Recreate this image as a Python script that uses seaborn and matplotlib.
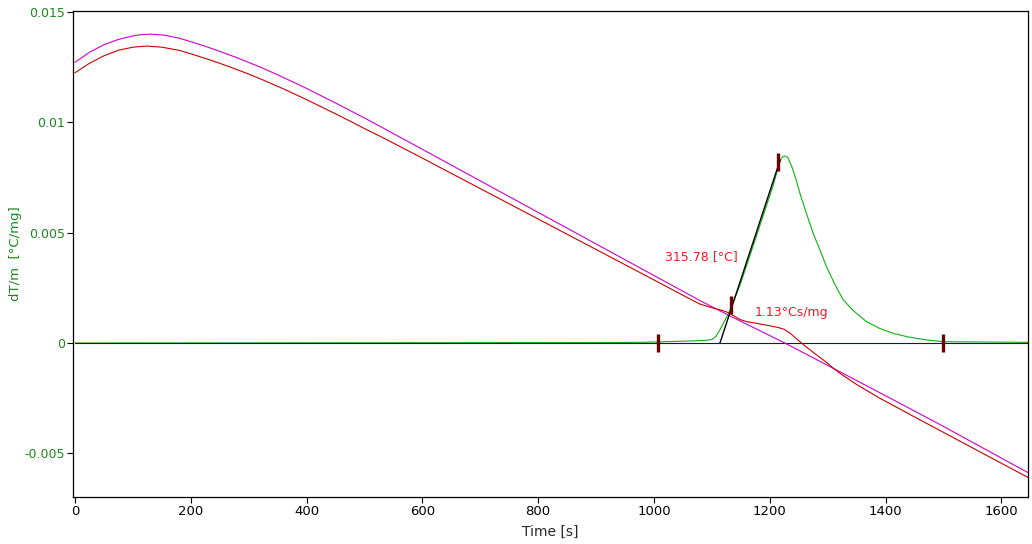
import matplotlib
matplotlib.use("Agg")
import matplotlib.pyplot as plt
import seaborn as sns
import pandas as pd

# ---- data ----
mag_t = [0, 25, 50, 75, 100, 115, 130, 155, 181, 200, 225, 250, 275, 300, 325, 354,
         375, 400, 425, 450, 475, 500, 527, 550, 600, 700, 800, 900, 1000, 1079, 1131,
         1226, 1310, 1408, 1500, 1638, 1646]
mag_y = [0.01272, 0.01318, 0.01352, 0.01376, 0.01392, 0.01398, 0.01400, 0.013955, 0.01381,
         0.01366, 0.01345, 0.01322, 0.01298, 0.01272, 0.01245, 0.01211,
         0.01185, 0.01154, 0.01121, 0.01088, 0.01054, 0.01020, 0.00982, 0.00949, 0.00878,
         0.00735, 0.00592, 0.00449, 0.00306, 0.00193, 0.00123,
         0.0, -0.00115, -0.00250, -0.00378, -0.00576, -0.00587]

red_t = [0, 25, 50, 75, 100, 124, 150, 181, 200, 225, 250, 275, 300, 325, 354, 375,
         400, 425, 450, 475, 500, 527, 550, 600, 700, 800, 900, 1000, 1059, 1079, 1100,
         1120, 1131, 1140, 1149, 1160, 1180, 1200, 1215, 1225, 1235, 1245, 1257, 1270,
         1287, 1300, 1310, 1321, 1350, 1390, 1450, 1500, 1550, 1600, 1638, 1646]
red_y = [0.01225, 0.01268, 0.01302, 0.01327, 0.01341, 0.01346, 0.01341, 0.01326, 0.01311,
         0.01290, 0.01268, 0.01244, 0.01219, 0.01192, 0.01159, 0.01134,
         0.01103, 0.01071, 0.01039, 0.01006, 0.00972, 0.00937, 0.00906, 0.00838,
         0.00700, 0.00562, 0.00424, 0.00286, 0.00204, 0.00177, 0.00160,
         0.00146, 0.00135, 0.00120, 0.00106, 0.00097, 0.00088, 0.00078, 0.00070, 0.00062,
         0.00045, 0.00022, -0.00005, -0.00032, -0.00066, -0.00092, -0.00115, -0.00137,
         -0.00188, -0.00250, -0.00335, -0.00405, -0.00475, -0.00545, -0.00598, -0.00609]

grn_t = [0, 500, 900, 976, 1062, 1090, 1100, 1107, 1114, 1121, 1128, 1149, 1177, 1206,
         1215, 1220, 1225, 1231, 1238, 1245, 1252, 1263, 1275, 1287, 1298, 1312, 1327,
         1345, 1367, 1390, 1413, 1440, 1471, 1500, 1646]
grn_y = [0.0, 0.00001, 0.00002, 0.00003, 0.00009, 0.00012, 0.00016, 0.00030, 0.00060,
         0.00095, 0.00130, 0.00265, 0.00485, 0.00715, 0.00800, 0.00838, 0.00848, 0.00842,
         0.00800, 0.00745, 0.00679, 0.00590, 0.00497, 0.00420, 0.00346, 0.00268, 0.00195,
         0.00145, 0.00097, 0.00066, 0.00044, 0.00027, 0.00014, 0.00006, 0.00003]

base_t = [0, 1646]
base_y = [0.0, 0.0]

tan_t = [1114, 1218]
tan_y = [0.0, 0.0083]

mark_t = [1007, 1133, 1215, 1500]
mark_y = [0.0, 0.00174, 0.00819, 0.0]

ytick_vals = [-0.005, 0, 0.005, 0.01, 0.015]
ytick_labels = ["-0.005", "0", "0.005", "0.01", "0.015"]
xtick_vals = [0, 200, 400, 600, 800, 1000, 1200, 1400, 1600]

ann1 = ("315.78 [°C]", 1019, 0.0039)
ann2 = ("1.13°Cs/mg", 1174, 0.00139)

# ---- plotting ----
sns.set_style("white")
plt.rcParams['font.family'] = ['DejaVu Sans']

fig = plt.figure(figsize=(10.32, 5.44), dpi=100)
ax = fig.add_axes([0.0707, 0.0864, 0.9254, 0.8934])

lw = 0.8
sns.lineplot(x=grn_t, y=grn_y, ax=ax, color="#10b010", lw=lw, estimator=None, sort=False)
sns.lineplot(x=base_t, y=base_y, ax=ax, color="#0000c8", lw=lw, estimator=None, sort=False)
sns.lineplot(x=mag_t, y=mag_y, ax=ax, color="#cc00cc", lw=lw, estimator=None, sort=False)
sns.lineplot(x=red_t, y=red_y, ax=ax, color="#c80000", lw=lw, estimator=None, sort=False)
sns.lineplot(x=tan_t, y=tan_y, ax=ax, color="black", lw=1.0, estimator=None, sort=False)

mk = pd.DataFrame({"t": mark_t, "y": mark_y})
sns.scatterplot(data=mk, x="t", y="y", ax=ax, marker="|", s=170, color="#6a0000",
                linewidth=2.4, zorder=5)

ax.text(ann1[1], ann1[2], ann1[0], color="#e81c24", fontsize=9, va="center", ha="left")
ax.text(ann2[1], ann2[2], ann2[0], color="#e81c24", fontsize=9, va="center", ha="left")

ax.set_xlim(-3.5, 1646)
ax.set_ylim(-0.00698, 0.01505)
ax.set_yticks(ytick_vals)
ax.set_yticklabels(ytick_labels, color="#1a8a1a", fontsize=9)
ax.set_xticks(xtick_vals)
ax.set_xticklabels([str(v) for v in xtick_vals], fontsize=9.5,
                   family=['Liberation Sans Narrow', 'DejaVu Sans'])
ax.tick_params(axis='both', which='both', direction='out', length=4, width=0.8,
               left=True, bottom=True, top=False, right=False, pad=1.5, colors="black")
for lab in ax.get_yticklabels():
    lab.set_color("#1a8a1a")

ax.set_xlabel("Time [s]", fontsize=10, family=['Liberation Sans Narrow', 'DejaVu Sans'],
              labelpad=5)
ax.set_ylabel("dT/m  [°C/mg]", fontsize=9.5, color="#1a8a1a", labelpad=2)

for sp in ax.spines.values():
    sp.set_visible(True)
    sp.set_color("black")
    sp.set_linewidth(0.9)

if ax.get_legend():
    ax.get_legend().remove()

fig.savefig("out.png", dpi=100, facecolor="white")
